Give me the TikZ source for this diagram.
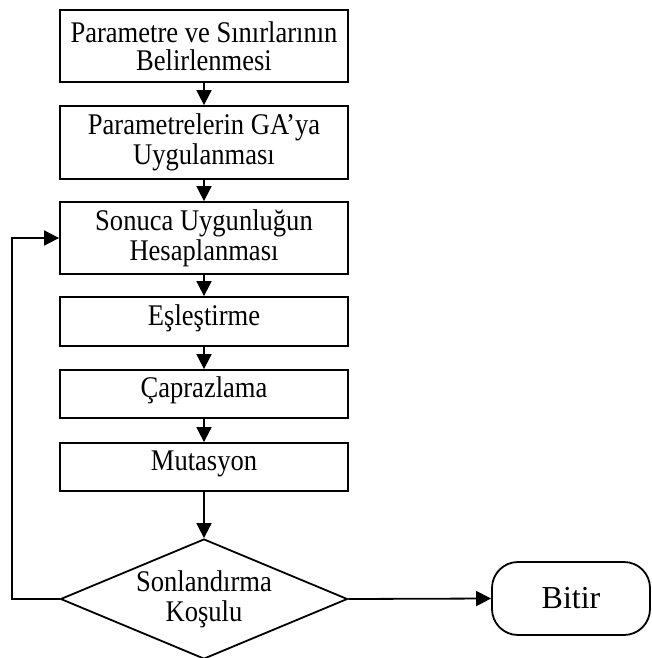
\documentclass[tikz,border=0pt]{standalone}
\usepackage{fontspec}
\setmainfont{Liberation Serif}
\newfontfamily\boxfont{Liberation Serif}[FakeStretch=0.885]
\usetikzlibrary{shapes.geometric,arrows.meta}
\begin{document}
\begin{tikzpicture}[x=1pt,y=-1pt,
  every node/.style={align=center, inner sep=0pt, line width=1.8pt},
  procbox/.style={draw, rectangle, minimum width=288pt, font=\boxfont\fontsize{30}{30}\selectfont},
  onebox/.style={procbox, text height=20pt, text depth=13pt},
  decbox/.style={draw, diamond, minimum width=287pt, minimum height=120pt,
    label={[font=\boxfont\fontsize{30}{30}\selectfont, align=center]center:#1}},
  endbox/.style={draw, rectangle, rounded corners=26pt, minimum width=158pt, minimum height=73pt, font=\fontsize{32}{36}\selectfont},
  arr/.style={line width=1.8pt, -{Triangle[length=15pt,width=15pt]}}]
\useasboundingbox (0,0) rectangle (652,658);
\node[procbox, minimum height=72pt, font=\boxfont\fontsize{30}{28}\selectfont] (b1) at (204,46) {Parametre ve Sınırlarının\\Belirlenmesi};
\node[procbox, minimum height=73pt] (b2) at (204,142.5) {Parametrelerin GA’ya\\Uygulanması};
\node[procbox, minimum height=72pt] (b3) at (204,238) {Sonuca Uygunluğun\\Hesaplanması};
\node[onebox, minimum height=49pt] (b4) at (204,321.5) {Eşleştirme};
\node[onebox, minimum height=48pt] (b5) at (204,394) {Çaprazlama};
\node[onebox, minimum height=48pt] (b6) at (204,467) {Mutasyon};
\node[decbox={Sonlandırma\\Koşulu}] (d) at (204,599) {};
\node[endbox] (e) at (571,598.5) {Bitir};
\coordinate (lp) at (12,599);
\draw[arr] (b1) -- (b2);
\draw[arr] (b2) -- (b3);
\draw[arr] (b3) -- (b4);
\draw[arr] (b4) -- (b5);
\draw[arr] (b5) -- (b6);
\draw[arr] (b6) -- (d);
\draw[arr] (d.east) -- (e.west);
\draw[arr] (d.west) -- (lp) |- (b3.west);
\end{tikzpicture}
\end{document}
